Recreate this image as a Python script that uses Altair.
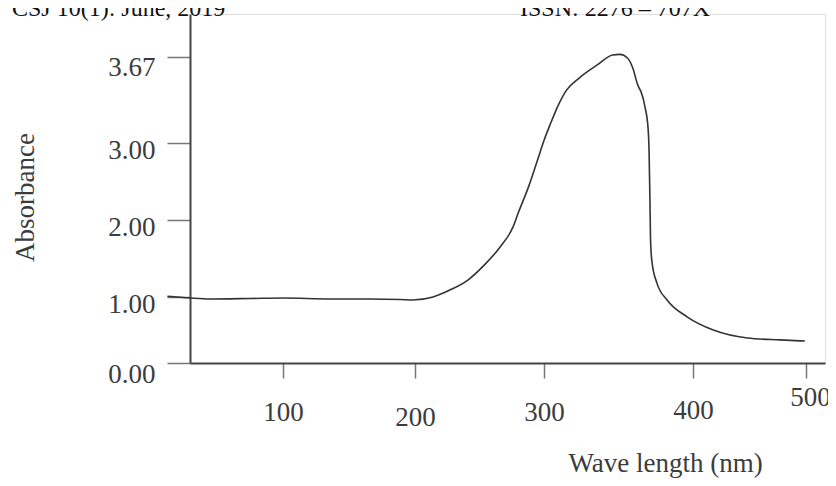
import altair as alt
import pandas as pd

# Curve
wavelength = [13, 30, 45, 75, 100, 136, 166, 189, 198.5, 214, 227, 241, 254, 266, 276, 280,
              288, 295, 300, 304, 309, 315, 324, 336, 346, 351, 356, 360, 362.4, 363.8, 365.1,
              367.8, 369.8, 370.5, 371.1, 371.5, 372.5, 375.8, 382.6, 396, 418, 448, 477, 499]
absorbance = [1.01, 0.985, 0.97, 0.977, 0.985, 0.97, 0.97, 0.962, 0.955, 1.0, 1.09, 1.22, 1.42,
              1.65, 1.91, 2.09, 2.43, 2.78, 3.02, 3.14, 3.28, 3.41, 3.51, 3.61, 3.685, 3.69,
              3.662, 3.57, 3.47, 3.43, 3.40, 3.28, 3.12, 2.91, 2.26, 1.74, 1.45, 1.18, 0.955,
              0.70, 0.50, 0.38, 0.35, 0.333]

x_ticks = [100, 200, 300, 400, 500]
y_ticks = [0, 1, 2, 3, 3.67]
header_left = "CSJ 10(1): June, 2019"
header_right = "ISSN: 2276 – 707X"

df = pd.DataFrame({"wl": wavelength, "abs": absorbance})

FONT = "Liberation Serif"
TXT = "#3c3c3c"

# hand-drawn (non-uniform) axes -> piecewise linear scales
xscale = alt.Scale(domain=[30, 100, 200, 300, 400, 500, 517],
                   range=[0, 93, 225, 354, 503, 616, 635], nice=False, zero=False)
yscale = alt.Scale(domain=[0, 1, 2, 3, 3.67, 4.0],
                   range=[349, 283, 206, 129, 43, 0], nice=False, zero=False)

line = alt.Chart(df).mark_line(color="#333333", strokeWidth=1.6, interpolate="monotone").encode(
    x=alt.X("wl:Q", scale=xscale,
            axis=alt.Axis(values=x_ticks, format="d", title="Wave length (nm)",
                          grid=False, domainColor="#444444", domainWidth=2,
                          tickColor="#777777", tickWidth=1.5, tickSize=15,
                          labelFont=FONT, labelFontSize=27, labelColor=TXT,
                          labelBaseline="alphabetic",
                          labelPadding={"expr": "datum.value == 200 ? 47 : datum.value == 500 ? 27 : datum.value == 400 ? 40 : 42"},
                          labelOffset={"expr": "datum.value == 500 ? 4 : 0"},
                          labelFlush=False, labelOverlap=False,
                          titleFont=FONT, titleFontSize=27, titleFontWeight="normal",
                          titleColor=TXT, titleX=475, titleY=108, titleAlign="center",
                          titleBaseline="alphabetic")),
    y=alt.Y("abs:Q", scale=yscale,
            axis=alt.Axis(values=y_ticks, format=".2f", title="Absorbance",
                          grid=False, domainColor="#444444", domainWidth=2,
                          tickColor="#777777", tickWidth=1.5, tickSize=23,
                          labelFont=FONT, labelFontSize=27, labelColor=TXT,
                          labelBaseline="alphabetic", labelPadding=12,
                          labelOffset={"expr": "datum.value == 0 ? 19 : datum.value == 3.67 ? 18 : 15"},
                          labelFlush=False, labelOverlap=False,
                          titleFont=FONT, titleFontSize=27, titleFontWeight="normal",
                          titleColor=TXT, titleAngle=270, titleX=-157, titleY=183,
                          titleAlign="center", titleBaseline="alphabetic")),
)

hl = alt.Chart(pd.DataFrame({"t": [header_left]})).mark_text(
    font=FONT, fontSize=24, color="#111111", align="left", baseline="alphabetic"
).encode(text="t:N", x=alt.value(-178), y=alt.value(2))

hr = alt.Chart(pd.DataFrame({"t": [header_right]})).mark_text(
    font=FONT, fontSize=24, color="#111111", align="left", baseline="alphabetic"
).encode(text="t:N", x=alt.value(330), y=alt.value(2))

chart = alt.layer(line, hl, hr).properties(
    width=635, height=349,
    autosize=alt.AutoSizeParams(type="none"),
    padding={"left": 182, "top": 6, "right": 3, "bottom": 115},
).configure_view(stroke=None).configure(background="white")

chart.save("out.html", embed_options={"renderer": "svg", "actions": False})
